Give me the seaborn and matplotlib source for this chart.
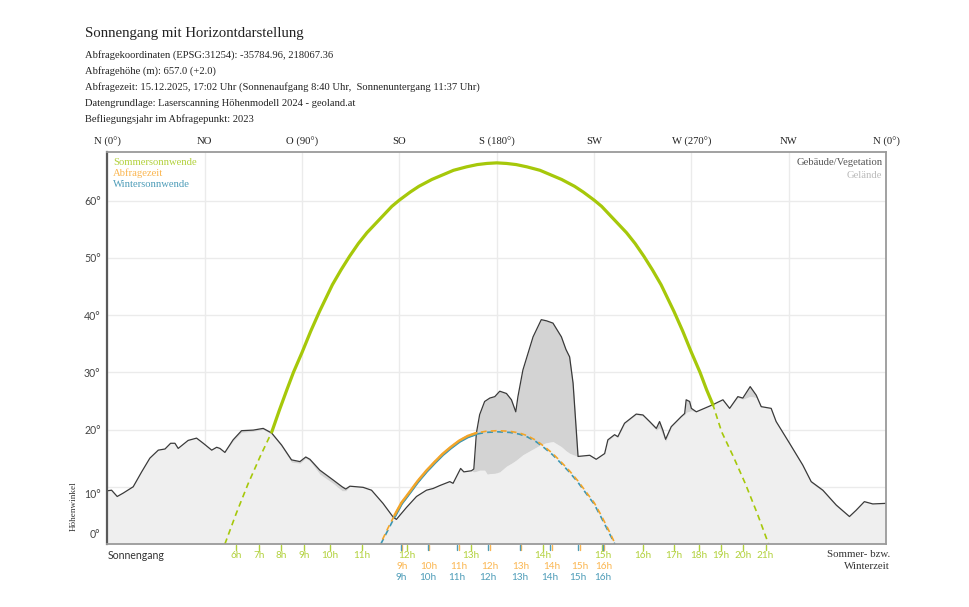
import numpy as np
import pandas as pd
import matplotlib
matplotlib.use("Agg")
import matplotlib.pyplot as plt
import matplotlib.transforms as mtrans
import seaborn as sns

# ---------------- data ----------------
HORIZON_AZ = [0.0, 1.9, 4.5, 7.3, 11.9, 15.8, 19.6, 23.5, 26.6, 29.2, 31.2, 32.7, 37.3, 41.2,
              44.3, 48.2, 50.5, 52.0, 54.3, 58.1, 62.0, 67.4, 72.0, 75.9, 80.5, 85.1, 89.0,
              91.7, 93.6, 98.2, 104.3, 108.5, 110.2, 112.1, 118.2, 122.1, 127.4, 132.1, 133.6,
              138.3, 142.9, 147.5, 150.6, 153.6, 158.3, 159.8, 163.3, 164.8, 168.3, 169.4,
              170.6, 172.1, 174.4, 175.6, 176.8, 179.1, 181.4, 184.5, 186.8, 188.8, 189.8,
              192.1, 196.8, 200.6, 203.0, 206.0, 209.9, 212.0, 213.7, 215.3, 217.6, 223.0,
              226.0, 229.9, 231.4, 234.5, 236.0, 239.1, 244.5, 247.6, 250.7, 253.8, 255.3,
              256.8, 258.1, 260.7, 265.3, 266.9, 267.6, 269.2, 270.0, 272.3, 279.7, 284.6,
              287.7, 291.5, 293.8, 297.2, 300.0, 302.3, 306.9, 309.2, 315.4, 321.5, 325.4,
              330.8, 337.0, 343.1, 346.2, 350.0, 353.9, 360.0]
HORIZON_EL = [9.3, 9.4, 8.3, 8.9, 10.0, 12.6, 15.0, 16.4, 16.6, 17.6, 17.6, 16.7, 18.1, 18.5,
              17.6, 16.4, 16.9, 16.7, 16.0, 18.2, 19.8, 19.9, 20.2, 19.4, 17.3, 14.7, 14.4,
              15.2, 14.8, 12.9, 11.2, 10.0, 9.6, 10.1, 9.9, 9.4, 7.1, 4.7, 4.3,
              6.4, 8.3, 9.4, 9.7, 10.2, 10.9, 10.6, 13.2, 12.6, 12.8, 13.1,
              19.4, 22.6, 24.9, 25.2, 25.5, 25.75, 26.7, 26.3, 25.2, 23.1, 25.75,
              30.4, 36.2, 39.2, 39.0, 38.6, 36.2, 34.0, 32.7, 28.1, 15.3, 15.5,
              14.8, 15.8, 18.2, 19.1, 18.75, 21.1, 22.7, 22.55, 21.4, 20.2, 21.4,
              19.9, 18.3, 20.5, 22.25, 22.8, 25.2, 24.9, 23.7, 23.1, 24.3, 25.2,
              23.7, 25.75, 25.5, 27.5, 26.0, 24.0, 23.7, 21.4, 17.6, 13.8, 10.9,
              9.4, 6.8, 4.8, 5.9, 7.4, 7.0, 7.1]
GELAENDE_EL = [9.3, 9.4, 8.3, 8.9, 10.0, 12.6, 15.0, 16.4, 16.6, 17.6, 17.6, 16.7, 18.1, 18.5,
               17.6, 16.4, 16.9, 16.7, 16.0, 18.0, 19.5, 19.7, 20.0, 19.2, 17.0, 14.3, 14.1,
               15.0, 14.5, 12.2, 10.6, 9.3, 9.3, 10.1, 9.9, 9.4, 7.1, 4.7, 4.3,
               6.4, 8.3, 9.4, 9.7, 10.2, 10.9, 10.6, 13.2, 12.6, 12.8, 12.6,
               12.7, 12.9, 12.9, 12.2, 12.3, 12.35, 12.6, 13.6, 14.1, 14.6, 14.9,
               15.6, 16.6, 17.4, 17.7, 17.9, 17.0, 16.3, 15.85, 15.6, 15.3, 15.5,
               14.8, 15.8, 18.0, 19.0, 18.6, 21.0, 22.6, 22.4, 21.2, 19.9, 20.3,
               19.0, 17.9, 20.4, 22.2, 22.6, 23.0, 23.2, 23.3, 23.1, 24.3, 25.2,
               23.7, 25.6, 25.3, 25.8, 25.6, 24.0, 23.7, 21.4, 17.5, 13.7, 10.7,
               9.2, 6.6, 4.7, 5.9, 7.4, 7.0, 7.1]

SUMMER_AZ = [54.3, 59.5, 65.0, 70.5, 76.0, 79.5, 83.0, 86.0, 90.0, 94.0, 98.0, 104.0, 108.0,
             112.0, 116.0, 120.0, 124.0, 128.0, 131.5, 135.0, 140.0, 144.0, 150.0, 155.0,
             160.0, 166.0, 171.0, 175.5, 180.0, 184.5, 189.0, 194.0, 200.0, 205.0, 210.0,
             216.0, 220.0, 225.0, 228.5, 232.0, 236.0, 240.0, 244.0, 248.0, 252.0, 256.0,
             262.0, 266.0, 270.0, 274.0, 277.0, 280.0, 284.0, 289.5, 295.0, 300.5, 305.7]
SUMMER_EL = [0.0, 5.3, 10.5, 15.2, 19.6, 23.4, 27.0, 30.0, 33.5, 37.2, 40.6, 45.3, 47.9,
             50.3, 52.5, 54.4, 56.0, 57.6, 59.0, 60.1, 61.5, 62.5, 63.7, 64.5,
             65.3, 65.9, 66.3, 66.5, 66.6, 66.5, 66.3, 65.9, 65.3, 64.5, 63.7,
             62.5, 61.5, 60.1, 59.0, 57.6, 56.0, 54.4, 52.5, 50.3, 47.9, 45.3,
             40.6, 37.2, 33.5, 30.0, 27.0, 24.3, 19.6, 15.2, 10.5, 5.3, 0.0]

WINTER_AZ = [126.4, 129.8, 132.9, 136.0, 139.8, 143.5, 147.5, 151.5, 155.2, 159.0, 162.9,
             166.8, 170.6, 175.0, 180.5, 186.0, 190.4, 194.2, 198.1, 202.0, 205.8, 209.5,
             213.5, 217.5, 221.2, 225.0, 228.1, 231.2, 234.6]
WINTER_EL = [0.0, 2.5, 4.8, 7.0, 8.9, 10.8, 12.6, 14.2, 15.6, 16.8, 17.9,
             18.7, 19.2, 19.5, 19.6, 19.5, 19.2, 18.7, 17.9, 16.8, 15.6, 14.2,
             12.6, 10.8, 8.9, 7.0, 4.8, 2.5, 0.0]
QUERY_AZ = [126.2, 129.6, 132.7, 135.9, 139.7, 143.4, 147.4, 151.4, 155.1, 158.9, 162.8,
            166.7, 170.6, 175.0, 180.5, 186.0, 190.5, 194.3, 198.2, 202.1, 205.9, 209.6,
            213.6, 217.6, 221.3, 225.1, 228.3, 231.4, 234.8]
QUERY_EL = [0.0, 2.7, 5.0, 7.2, 9.1, 11.0, 12.8, 14.4, 15.8, 17.0, 18.1,
            18.9, 19.4, 19.7, 19.8, 19.7, 19.4, 18.9, 18.1, 17.0, 15.8, 14.4,
            12.8, 11.0, 9.1, 7.2, 5.0, 2.7, 0.0]

DIRECTION_TICKS = [0, 45, 90, 135, 180, 225, 270, 315, 360]
DIRECTION_LABELS = ["N (0°)", "NO", "O (90°)", "SO", "S (180°)", "SW", "W (270°)", "NW", "N (0°)"]
ELEVATION_TICKS = [0, 10, 20, 30, 40, 50, 60]

SUMMER_HOUR_AZ = [59.4, 70.0, 80.2, 90.8, 102.8, 117.6, 138.4, 167.9, 201.2, 228.9,
                  247.5, 261.8, 273.3, 283.5, 293.7, 304.3]
SUMMER_HOUR_LABELS = ["6h", "7h", "8h", "9h", "10h", "11h", "12h", "13h", "14h", "15h",
                      "16h", "17h", "18h", "19h", "20h", "21h"]
QUERY_HOUR_AZ = [136.1, 148.6, 162.5, 176.8, 191.0, 205.4, 218.3, 229.4]
WINTER_HOUR_AZ = [135.6, 148.1, 161.7, 175.8, 190.6, 204.5, 217.4, 229.0]
WINTER_HOUR_LABELS = ["9h", "10h", "11h", "12h", "13h", "14h", "15h", "16h"]

TITLE = "Sonnengang mit Horizontdarstellung"
HEADER_LINES = [
    "Abfragekoordinaten (EPSG:31254): -35784.96, 218067.36",
    "Abfragehöhe (m): 657.0 (+2.0)",
    "Abfragezeit: 15.12.2025, 17:02 Uhr (Sonnenaufgang 8:40 Uhr,  Sonnenuntergang 11:37 Uhr)",
    "Datengrundlage: Laserscanning Höhenmodell 2024 - geoland.at",
    "Befliegungsjahr im Abfragepunkt: 2023",
]
LEGEND_LEFT = ["Sommersonnwende", "Abfragezeit", "Wintersonnwende"]
LEGEND_RIGHT = ["Gebäude/Vegetation", "Gelände"]

# ---------------- style ----------------
sns.set_theme(style="white")
plt.rcParams["font.family"] = ["Liberation Serif", "DejaVu Serif"]
SANS = ["Lato", "DejaVu Sans"]

C_SUMMER = "#a6c80a"
C_SUMMER_TXT = "#b2d13c"
C_QUERY = "#f2a52a"
C_QUERY_TXT = "#fbb650"
C_WINTER = "#3b96b3"
C_WINTER_TXT = "#4d9cb8"

fig = plt.figure(figsize=(9.7, 6.07), dpi=100)
ax = fig.add_axes([0.1108, 0.1038, 0.8026, 0.6458])
ax.set_xlim(0, 360)
ax.set_ylim(0, 68.5)

# grid
ax.set_xticks(DIRECTION_TICKS)
ax.set_yticks(ELEVATION_TICKS)
ax.grid(True, color="#ebebeb", lw=1.0, zorder=0)
ax.set_axisbelow(True)

# terrain
haz = np.array(HORIZON_AZ)
hel = np.array(HORIZON_EL)
gel = np.array(GELAENDE_EL)
ax.fill_between(haz, 0, gel, color="#efefef", lw=0, zorder=1)
ax.fill_between(haz, gel, hel, where=hel >= gel, color="#d3d3d3", lw=0, zorder=1)
sns.lineplot(x=haz, y=hel, ax=ax, color="#3a3a3a", lw=0.9, sort=False, estimator=None, zorder=4)


def visible_runs(az, el):
    az = np.asarray(az)
    el = np.asarray(el)
    mask = el >= np.interp(az, haz, hel) - 0.35
    runs, cur = [], []
    for i, m in enumerate(mask):
        if m:
            cur.append(i)
        elif cur:
            runs.append(cur)
            cur = []
    if cur:
        runs.append(cur)
    return [(az[r], el[r]) for r in runs if len(r) > 1]


def draw_path(az, el, color, lw_solid, dash_offset=0):
    sns.lineplot(x=az, y=el, ax=ax, color=color, lw=1.2, sort=False, estimator=None,
                 linestyle=(dash_offset, (3.5, 2.5)), zorder=5)
    for a, e in visible_runs(az, el):
        sns.lineplot(x=a, y=e, ax=ax, color=color, lw=lw_solid, sort=False,
                     estimator=None, zorder=6, solid_capstyle="round",
                     solid_joinstyle="round")


draw_path(WINTER_AZ, WINTER_EL, C_WINTER, 1.8)
draw_path(QUERY_AZ, QUERY_EL, C_QUERY, 1.8, dash_offset=3.0)
draw_path(SUMMER_AZ, SUMMER_EL, C_SUMMER, 2.3)

ax.set_xlabel("")
ax.set_ylabel("")

# spines
for s in ["top", "right", "bottom"]:
    ax.spines[s].set_color("#9a9a9a")
    ax.spines[s].set_linewidth(1.3)
ax.spines["left"].set_color("#5a5a5a")
ax.spines["left"].set_linewidth(1.6)
for sp in ax.spines.values():
    sp.set_zorder(8)

# axis labels
ax.set_xticklabels([])
ax.tick_params(axis="x", length=0)
ax.tick_params(axis="y", length=0, pad=5, labelsize=7.6, labelcolor="#444444")
ax.set_yticklabels([f"{v}°" for v in ELEVATION_TICKS], fontfamily=SANS)
shifts = {0: 10, 10: -7}
for v, lbl in zip(ELEVATION_TICKS, ax.get_yticklabels()):
    if v in shifts:
        lbl.set_transform(lbl.get_transform() +
                          mtrans.ScaledTranslation(0, shifts[v] / 100, fig.dpi_scale_trans))

xt = ax.get_xaxis_transform()
for a, t in zip(DIRECTION_TICKS, DIRECTION_LABELS):
    ax.text(a, 1.026, t, transform=xt, ha="center", va="center", fontsize=7.7, color="#222222")

fig.text(0.0763, 0.166, "Höhenwinkel", rotation=90, ha="center", va="center",
         fontsize=6.6, color="#333333")

# legends
at = ax.transAxes
for i, (t, c) in enumerate(zip(LEGEND_LEFT, [C_SUMMER_TXT, C_QUERY_TXT, C_WINTER_TXT])):
    ax.text(0.007, 0.974 - i * 0.028, t, transform=at, ha="left", va="center",
            fontsize=7.7, color=c, zorder=9)
for i, (t, c) in enumerate(zip(LEGEND_RIGHT, ["#555555", "#bbbbbb"])):
    ax.text(0.9955, 0.972 - i * 0.031, t, transform=at, ha="right", va="center",
            fontsize=7.7, color=c, zorder=9)

# hour ticks & labels below axis
def hour_row(azs, labels, color_tick, color_txt, ypos):
    for a, t in zip(azs, labels):
        ax.plot([a, a], [-0.003, -0.015], transform=xt, color=color_tick, lw=1.0,
                clip_on=False, zorder=9)
        ax.text(a, ypos, t, transform=xt, ha="center", va="center", fontsize=7.2,
                color=color_txt, fontfamily=SANS)


hour_row(SUMMER_HOUR_AZ, SUMMER_HOUR_LABELS, C_SUMMER_TXT, C_SUMMER_TXT, -0.029)
hour_row(QUERY_HOUR_AZ, WINTER_HOUR_LABELS, C_QUERY_TXT, C_QUERY_TXT, -0.057)
hour_row(WINTER_HOUR_AZ, WINTER_HOUR_LABELS, C_WINTER_TXT, C_WINTER_TXT, -0.085)

ax.text(0.0, -0.029, "Sonnengang", transform=at, ha="left", va="center", fontsize=7.6,
        color="#333333", fontfamily=SANS)
ax.text(1.005, -0.027, "Sommer- bzw.", transform=at, ha="right", va="center",
        fontsize=7.8, color="#333333")
ax.text(1.005, -0.057, "Winterzeit", transform=at, ha="right", va="center",
        fontsize=7.8, color="#333333")

# header
fig.text(0.0876, 0.9456, TITLE, ha="left", va="center", fontsize=10.6, color="#222222")
for i, line in enumerate(HEADER_LINES):
    fig.text(0.0876, 0.909 - i * 0.0264, line, ha="left", va="center", fontsize=7.6,
             color="#222222")

fig.savefig("out.png", dpi=100)
